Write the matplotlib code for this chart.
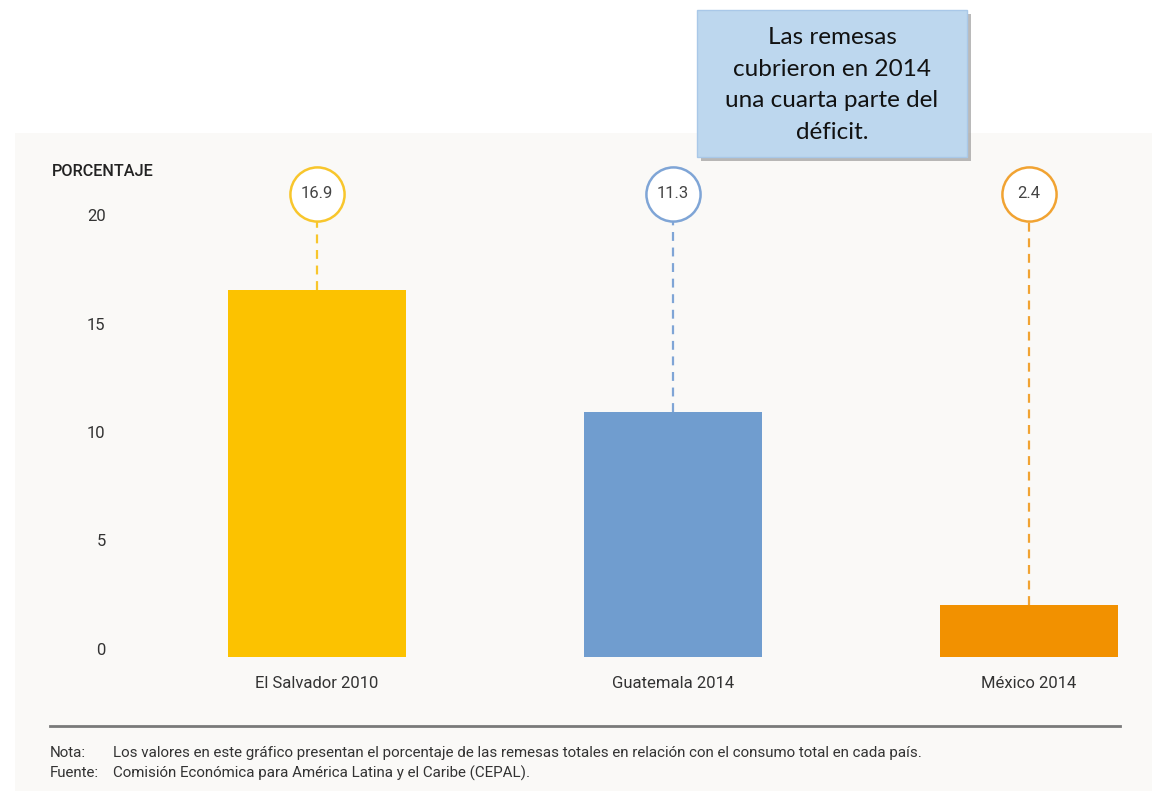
import numpy as np
import matplotlib.pyplot as plt
from matplotlib.patches import Rectangle
from matplotlib.transforms import ScaledTranslation

# Data
categories = ['El Salvador 2010', 'Guatemala 2014', 'México 2014']
values = [16.9, 11.3, 2.4]
labels = ['16.9', '11.3', '2.4']
yticks = [0, 5, 10, 15, 20]

bar_colors = ['#fcc200', '#709dcf', '#f29100']
ring_colors = ['#f8c62c', '#7fa5d6', '#f1a332']

W, H = 1152, 791
fig = plt.figure(figsize=(W / 100, H / 100), dpi=100)
fig.patch.set_facecolor('white')
plt.rcParams['font.family'] = ['Roboto', 'DejaVu Sans']

# light gray panel (behind the axes)
fig.patches.append(Rectangle((15 / W, 0), 1 - 15 / W, (H - 133) / H,
                             transform=fig.transFigure, facecolor='#faf9f7',
                             edgecolor='none', zorder=-5))

# axes placed in pixel terms
L, R, B, T = 200, 1140, 657, 150
ax = fig.add_axes([L / W, 1 - B / H, (R - L) / W, (B - T) / H])
ax.set_facecolor('none')
px_per_x = 356
x0 = -(317 - L) / px_per_x
ax.set_xlim(x0, x0 + (R - L) / px_per_x)
px_per_y = 21.7
ax.set_ylim(0, (B - T) / px_per_y)

x = np.arange(len(categories))
ax.bar(x, values, width=0.5, color=bar_colors, zorder=2)

ring_y = (B - 194) / px_per_y
ring_r = 27 / px_per_y
for xi, v, lab, c in zip(x, values, labels, ring_colors):
    ax.plot([xi, xi], [v, ring_y - ring_r], color=c, lw=1.6,
            dashes=(4, 3), zorder=1)
    ax.plot(xi, ring_y, marker='o', markersize=39, mfc='white', mec=c,
            mew=1.8, clip_on=False, zorder=3)
    ax.text(xi, ring_y, lab, ha='center', va='center', fontsize=12,
            color='#444444', zorder=4)

ax.set_xticks(x)
ax.set_xticklabels(categories, fontsize=12, color='#333333')
ax.set_yticks(yticks)
ax.set_yticklabels([str(t) for t in yticks], fontsize=12, color='#333333')
ax.tick_params(axis='x', length=0, pad=14)
ax.tick_params(axis='y', length=0, pad=68)
shift = ScaledTranslation(0, 8 / 100, fig.dpi_scale_trans)
for lbl in ax.get_yticklabels():
    lbl.set_transform(lbl.get_transform() + shift)
for s in ax.spines.values():
    s.set_visible(False)

fig.text(52 / W, 1 - 172 / H, 'PORCENTAJE', fontsize=11.7, fontweight='medium',
         color='#222222', va='center', ha='left')

# separator and notes
fig.add_artist(plt.Line2D([50 / W, 1120 / W], [1 - 726 / H] * 2,
                          color='#7a7a7a', lw=2))
note_fs = 10.9
fig.text(50 / W, 1 - 753 / H, 'Nota:', fontsize=note_fs, color='#333333', va='center')
fig.text(113 / W, 1 - 753 / H,
         'Los valores en este gráfico presentan el porcentaje de las remesas totales '
         'en relación con el consumo total en cada país.',
         fontsize=note_fs, color='#333333', va='center')
fig.text(50 / W, 1 - 773 / H, 'Fuente:', fontsize=note_fs, color='#333333', va='center')
fig.text(113 / W, 1 - 773 / H,
         'Comisión Económica para América Latina y el Caribe (CEPAL).',
         fontsize=note_fs, color='#333333', va='center')

# callout box with shadow
bx, by, bw, bh = 697, 10, 270, 147
fig.patches.append(Rectangle(((bx + 4) / W, 1 - (by + bh + 4) / H), bw / W, bh / H,
                             transform=fig.transFigure, facecolor='#8c8c8c',
                             edgecolor='none', alpha=0.6, zorder=5))
fig.patches.append(Rectangle((bx / W, 1 - (by + bh) / H), bw / W, bh / H,
                             transform=fig.transFigure, facecolor='#bdd7ee',
                             edgecolor='#a9c8e8', lw=1, zorder=6))
fig.text((bx + bw / 2) / W, 1 - (by + bh / 2 + 1.5) / H,
         'Las remesas\ncubrieron en 2014\nuna cuarta parte del\ndéficit.',
         ha='center', va='center', fontsize=17.5, color='#111111',
         family=['Lato', 'DejaVu Sans'], linespacing=1.63, zorder=7)

fig.savefig('out.png', dpi=100)
